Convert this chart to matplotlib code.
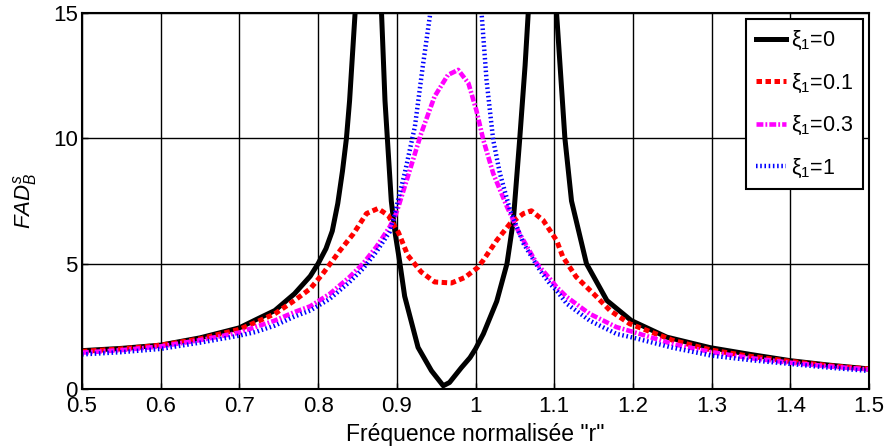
import matplotlib
matplotlib.use("Agg")
import matplotlib.pyplot as plt

plt.rcParams['font.family'] = ['Liberation Sans', 'DejaVu Sans']
plt.rcParams['mathtext.fontset'] = 'custom'
plt.rcParams['mathtext.rm'] = 'Liberation Sans'
plt.rcParams['mathtext.it'] = 'Liberation Sans:italic'
plt.rcParams['mathtext.bf'] = 'Liberation Sans:bold'

# ---- data ----
r_xi0 = [0.50, 0.55, 0.60, 0.65, 0.70, 0.72, 0.745, 0.77, 0.79, 0.80, 0.81, 0.818, 0.825,
         0.831, 0.836, 0.840, 0.847, 0.852, 0.876, 0.8806, 0.885, 0.888, 0.893, 0.8975,
         0.904, 0.910, 0.927, 0.944, 0.959, 0.967, 0.982, 0.993, 1.000, 1.010, 1.027,
         1.040, 1.048, 1.056, 1.063, 1.067, 1.073, 1.097, 1.103, 1.1136, 1.122, 1.141,
         1.167, 1.198, 1.243, 1.298, 1.349, 1.40, 1.45, 1.50]
fad_xi0 = [1.53, 1.62, 1.75, 2.04, 2.44, 2.75, 3.13, 3.80, 4.50, 5.00, 5.60, 6.30, 7.40,
           8.70, 10.0, 11.5, 15.0, 25.0, 25.0, 15.0, 11.5, 10.0, 7.5, 6.3,
           5.0, 3.7, 1.66, 0.73, 0.13, 0.26, 0.85, 1.25, 1.60, 2.20, 3.50,
           5.0, 6.7, 9.9, 12.9, 15.0, 25.0, 25.0, 15.0, 10.0, 7.5, 5.0,
           3.53, 2.73, 2.07, 1.65, 1.38, 1.13, 0.95, 0.80]

r_xi01 = [0.50, 0.55, 0.60, 0.65, 0.70, 0.72, 0.745, 0.77, 0.79, 0.806, 0.828, 0.845,
          0.8615, 0.876, 0.889, 0.8975, 0.902, 0.914, 0.931, 0.948, 0.9695, 0.9865,
          1.003, 1.0097, 1.027, 1.044, 1.061, 1.071, 1.086, 1.0945, 1.103, 1.111,
          1.128, 1.150, 1.171, 1.196, 1.25, 1.30, 1.35, 1.40, 1.45, 1.50]
fad_xi01 = [1.50, 1.60, 1.75, 2.00, 2.38, 2.65, 3.00, 3.53, 4.00, 4.60, 5.53, 6.20,
            7.00, 7.20, 6.93, 6.47, 6.25, 5.33, 4.67, 4.27, 4.23, 4.45,
            4.85, 5.13, 5.93, 6.60, 7.00, 7.11, 6.73, 6.33, 5.93, 5.27,
            4.47, 3.80, 3.13, 2.60, 1.95, 1.55, 1.30, 1.10, 0.93, 0.80]

r_xi03 = [0.50, 0.55, 0.60, 0.65, 0.70, 0.72, 0.745, 0.77, 0.79, 0.815, 0.84, 0.857,
          0.874, 0.891, 0.8975, 0.902, 0.914, 0.931, 0.948, 0.965, 0.978, 0.991,
          1.001, 1.010, 1.0225, 1.040, 1.056, 1.078, 1.0945, 1.103, 1.116, 1.145,
          1.179, 1.20, 1.25, 1.30, 1.35, 1.40, 1.45, 1.50]
fad_xi03 = [1.45, 1.55, 1.70, 1.95, 2.25, 2.47, 2.73, 3.07, 3.30, 3.80, 4.47, 5.00,
            5.67, 6.47, 6.87, 7.27, 8.47, 10.2, 11.67, 12.53, 12.73, 12.2,
            11.13, 9.93, 8.60, 7.27, 6.20, 5.00, 4.40, 4.07, 3.67, 3.00,
            2.47, 2.28, 1.80, 1.47, 1.23, 1.05, 0.90, 0.78]

r_xi1 = [0.50, 0.55, 0.60, 0.65, 0.70, 0.72, 0.745, 0.77, 0.79, 0.815, 0.84, 0.857,
         0.874, 0.891, 0.8975, 0.910, 0.923, 0.933, 0.942, 0.955, 0.975, 0.995,
         1.0077, 1.014, 1.0225, 1.031, 1.044, 1.061, 1.082, 1.0945, 1.103, 1.116,
         1.145, 1.179, 1.20, 1.25, 1.30, 1.35, 1.40, 1.45, 1.50]
fad_xi1 = [1.38, 1.47, 1.60, 1.85, 2.13, 2.27, 2.53, 2.89, 3.13, 3.60, 4.27, 4.80,
           5.47, 6.27, 7.00, 8.60, 10.47, 12.87, 14.87, 20.0, 25.0, 20.0,
           15.0, 12.33, 9.93, 8.60, 7.13, 5.80, 4.73, 4.20, 3.93, 3.40,
           2.73, 2.20, 2.05, 1.65, 1.33, 1.15, 1.00, 0.85, 0.72]

labels = [r'$\mathrm{\xi_1}$=0', r'$\mathrm{\xi_1}$=0.1', r'$\mathrm{\xi_1}$=0.3', r'$\mathrm{\xi_1}$=1']
xticks = [0.5, 0.6, 0.7, 0.8, 0.9, 1.0, 1.1, 1.2, 1.3, 1.4, 1.5]
xticklabels = ['0.5', '0.6', '0.7', '0.8', '0.9', '1', '1.1', '1.2', '1.3', '1.4', '1.5']
yticks = [0, 5, 10, 15]

fig = plt.figure(figsize=(8.86, 4.46), dpi=100)
ax = fig.add_axes([82 / 886, 1 - 389 / 446, (869 - 82) / 886, (389 - 13) / 446])

ax.plot(r_xi0, fad_xi0, color='black', lw=3.6, linestyle='-', label=labels[0], zorder=3)
ax.plot(r_xi01, fad_xi01, color='red', lw=3.6, linestyle=(0, (1.1, 0.7)), label=labels[1], zorder=4)
ax.plot(r_xi03, fad_xi03, color='magenta', lw=3.3, linestyle=(0, (1.5, 0.45, 0.4, 0.45)), label=labels[2], zorder=5)
ax.plot(r_xi1, fad_xi1, color='blue', lw=3.2, linestyle=(0, (0.35, 0.6)), label=labels[3], zorder=6)

ax.set_xlim(0.5, 1.5)
ax.set_ylim(0, 15)
ax.set_xticks(xticks)
ax.set_xticklabels(xticklabels)
ax.set_yticks(yticks)
ax.grid(True, color='black', lw=1.0, linestyle='-')
ax.set_axisbelow(True)
ax.tick_params(direction='in', length=4, width=1, labelsize=16)
ax.tick_params(axis='x', pad=5)
ax.tick_params(axis='y', pad=3)
for s in ax.spines.values():
    s.set_linewidth(1.5)
    s.set_zorder(10)

ax.set_xlabel('Fréquence normalisée "r"', fontsize=16.5, labelpad=4)
ax.set_ylabel(r'$FAD^s_B$', fontsize=16, labelpad=10)

leg = ax.legend(loc='upper right', fontsize=15.5, frameon=True, fancybox=False,
                edgecolor='black', framealpha=1, handlelength=1.4, handletextpad=0.2,
                labelspacing=0.9, borderaxespad=0.3, borderpad=0.45)
leg.get_frame().set_linewidth(1.5)

fig.savefig('out.png', dpi=100)
